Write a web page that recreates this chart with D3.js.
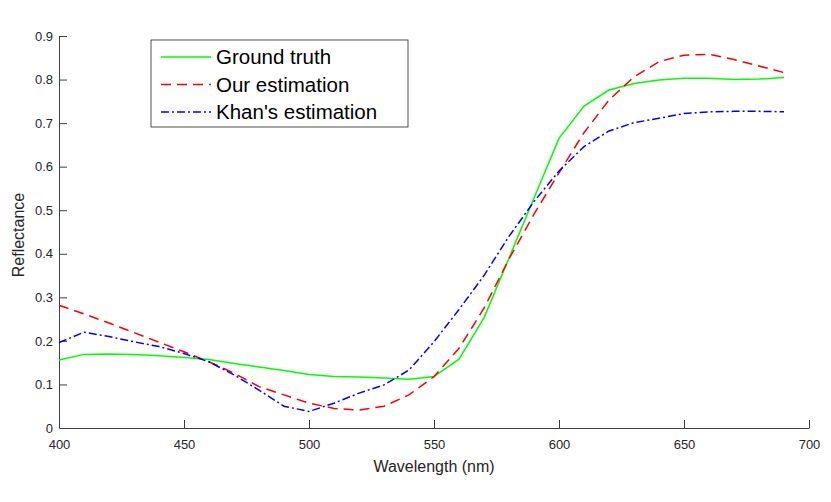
<!DOCTYPE html>
<html>
<head>
<meta charset="utf-8">
<script src="https://cdn.jsdelivr.net/npm/d3@7"></script>
<style>
  body { margin: 0; background: #fff; }
  svg { font-family: "Liberation Sans", Arial, sans-serif; }
</style>
</head>
<body>
<svg id="chart" width="831" height="502"></svg>
<script>
// wavelengths, 400..690 every 10 nm
const wavelengths = [400, 410, 420, 430, 440, 450, 460, 470, 480, 490,
  500, 510, 520, 530, 540, 550, 560, 570, 580, 590,
  600, 610, 620, 630, 640, 650, 660, 670, 680, 690];

const groundTruth = [0.156, 0.169, 0.170, 0.169, 0.166, 0.162, 0.157, 0.148, 0.140, 0.132,
  0.123, 0.118, 0.117, 0.115, 0.112, 0.118, 0.158, 0.253, 0.390, 0.528,
  0.665, 0.739, 0.776, 0.791, 0.799, 0.803, 0.803, 0.800, 0.801, 0.805];

const ourEstimation = [0.282, 0.262, 0.241, 0.219, 0.197, 0.175, 0.152, 0.126, 0.095, 0.076,
  0.057, 0.045, 0.041, 0.050, 0.076, 0.118, 0.183, 0.275, 0.388, 0.491,
  0.586, 0.678, 0.753, 0.806, 0.841, 0.856, 0.858, 0.846, 0.831, 0.816];

const khanEstimation = [0.196, 0.220, 0.210, 0.198, 0.187, 0.171, 0.152, 0.122, 0.087, 0.050,
  0.038, 0.057, 0.080, 0.099, 0.133, 0.198, 0.272, 0.350, 0.440, 0.520,
  0.590, 0.646, 0.682, 0.701, 0.711, 0.722, 0.726, 0.727, 0.727, 0.726];

const seriesNames = ["Ground truth", "Our estimation", "Khan's estimation"];
const xTicks = [400, 450, 500, 550, 600, 650, 700];
const yTicks = [0, 0.1, 0.2, 0.3, 0.4, 0.5, 0.6, 0.7, 0.8, 0.9];

const svg = d3.select("#chart");
const margin = {left: 59, right: 22, top: 36, bottom: 74};
const width = 831, height = 502;

const x = d3.scaleLinear().domain([400, 700]).range([margin.left, width - margin.right]);
const y = d3.scaleLinear().domain([0, 0.9]).range([height - margin.bottom, margin.top]);

const axisColor = "#404040";

// x axis (ticks point inward)
const gx = svg.append("g")
  .attr("transform", "translate(0," + y(0) + ")")
  .call(d3.axisBottom(x).tickValues(xTicks).tickSizeInner(-8).tickSizeOuter(0).tickPadding(12));
gx.select(".domain").attr("stroke", axisColor);
gx.selectAll(".tick line").attr("stroke", axisColor);
gx.selectAll(".tick text").attr("font-size", 13).attr("fill", "#262626");

// y axis
const gy = svg.append("g")
  .attr("transform", "translate(" + x(400) + ",0)")
  .call(d3.axisLeft(y).tickValues(yTicks).tickFormat(d3.format("~g")).tickSizeInner(-8).tickSizeOuter(0).tickPadding(6));
gy.select(".domain").attr("stroke", axisColor);
gy.selectAll(".tick text").attr("font-size", 13).attr("fill", "#262626");
gy.selectAll(".tick line").attr("stroke", axisColor);
gy.selectAll(".tick").filter(d => d === 0).select("line").remove();

// axis labels
svg.append("text")
  .attr("x", (x(400) + x(700)) / 2).attr("y", 472)
  .attr("text-anchor", "middle").attr("font-size", 16).attr("fill", "#262626")
  .text("Wavelength (nm)");
svg.append("text")
  .attr("transform", "translate(24," + (y(0.45) + 3) + ") rotate(-90)")
  .attr("text-anchor", "middle").attr("font-size", 16).attr("fill", "#262626")
  .text("Reflectance");

// lines
const series = [
  {name: seriesNames[0], values: groundTruth, color: "#00ff00", dash: null},
  {name: seriesNames[1], values: ourEstimation, color: "#ff0000", dash: "10,6"},
  {name: seriesNames[2], values: khanEstimation, color: "#0000ff", dash: "8,3,2,3"}
];

const line = d3.line()
  .x((d, i) => x(wavelengths[i]))
  .y(d => y(d));

svg.append("g").selectAll("path")
  .data(series)
  .join("path")
  .attr("d", d => line(d.values))
  .attr("fill", "none")
  .attr("stroke", d => d.color)
  .attr("stroke-width", 1.5)
  .attr("stroke-dasharray", d => d.dash);

// legend
const legend = svg.append("g").attr("transform", "translate(151,40)");
legend.append("rect")
  .attr("width", 257).attr("height", 87)
  .attr("fill", "#fff").attr("stroke", "#262626").attr("stroke-width", 0.8);

const rows = legend.selectAll("g.row")
  .data(series)
  .join("g")
  .attr("class", "row")
  .attr("transform", (d, i) => "translate(0," + (17 + i * 27.5) + ")");
rows.append("line")
  .attr("x1", 10).attr("x2", 60)
  .attr("stroke", d => d.color)
  .attr("stroke-width", 1.5)
  .attr("stroke-dasharray", d => d.dash);
rows.append("text")
  .attr("x", 65).attr("dy", "0.35em")
  .attr("font-size", 20.5).attr("fill", "#000")
  .text(d => d.name);
</script>
</body>
</html>
